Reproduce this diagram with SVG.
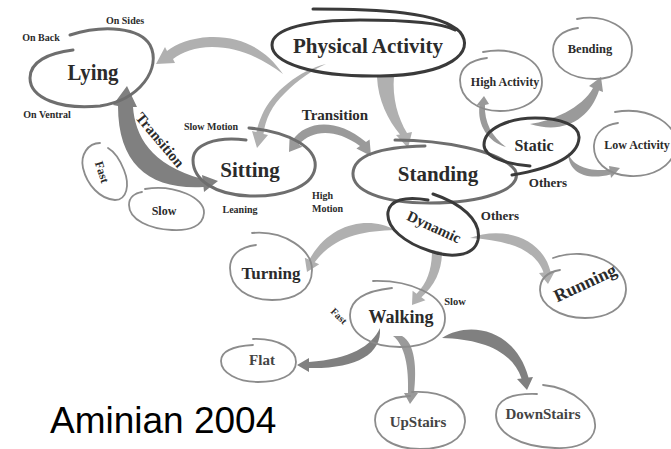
<svg xmlns="http://www.w3.org/2000/svg" width="671" height="449" viewBox="0 0 671 449">
  <style>
    .bg { fill: #ffffff; }
    .outline { fill: none; stroke-linecap: round; }
    .dark { stroke: #3a3a3a; stroke-width: 3; }
    .mid { stroke: #6e6e6e; stroke-width: 3; }
    .thin { stroke: #8c8c8c; stroke-width: 1.8; }
    .arrow-light { fill: #b0b0b0; }
    .arrow-mid { fill: #9a9a9a; }
    .arrow-dark { fill: #808080; }
    text { font-family: "Liberation Serif", "Times New Roman", serif; font-weight: bold; fill: #2b2b2b; text-anchor: middle; }
    .big { font-size: 21px; }
    .med { font-size: 15px; }
    .small { font-size: 10px; }
    .leaf { fill: #444444; }
    .credit { font-family: "Liberation Sans", Arial, sans-serif; font-weight: normal; fill: #000000; font-size: 37px; text-anchor: start; }
  </style>
  <rect class="bg" x="0" y="0" width="671" height="449"/>

  <!-- connectors: tapered curved arrows -->
  <g id="connectors">
    <!-- Physical Activity to Lying -->
    <path class="arrow-light" d="M283,74 C265,48 240,36 210,37 C190,38 176,44 167,51 L165,47 L156,64 L175,63 L173,59 C182,52 195,47 212,47 C238,47 262,58 283,74 Z"/>
    <!-- Physical Activity to Sitting -->
    <path class="arrow-light" d="M326,64 C300,70 272,92 262,115 C259,122 257,128 256.5,132 L252,131 L257,148 L268,135 L263.5,134 C265,120 272,105 285,93 C298,80 312,70 326,64 Z"/>
    <!-- Physical Activity to Standing -->
    <path class="arrow-light" d="M377,77 C378,100 388,120 400,134.5 L396,135 L408,148 L412,132 L407,133 C398,118 392,98 394,76 Z"/>
    <!-- Sitting / Standing transition -->
    <path class="arrow-mid" d="M293,139.6 C305,122 335,116 366,142 L369.6,139.6 L371,156 L356.4,148.4 L360,146 C335,128 312,130 299,144.4 L302.4,146.8 L289,152 L289.6,137.2 Z"/>
    <!-- Lying / Sitting transition -->
    <path class="arrow-dark" d="M133,107 C135,135 150,165 202.5,179 L202,175 L218,181 L204,192 L203.5,187 C150,190 118,165 118,106 L113,105 L127,86 L137,107 Z"/>
    <!-- Static to High Activity -->
    <path class="arrow-mid" d="M506,147 C488,142 477,125 479.5,105.5 L476,106 L484,96 L489,104 L485,105 C484,122 492,137 506,147 Z"/>
    <!-- Static to Bending -->
    <path class="arrow-mid" d="M530,124 C552,121 582,108 593,88 L589,86 L601,77 L603,92 L599,90.5 C590,118 565,135 530,124 Z"/>
    <!-- Static to Low Activity -->
    <path class="arrow-mid" d="M568,152 C571,166 590,172 609.5,169.5 L609,166 L620,168 L611,178 L610.5,174.5 C585,181 568,172 568,152 Z"/>
    <!-- Dynamic to Turning -->
    <path class="arrow-light" d="M395,230 C370,216 330,222 309.3,259.8 L304.8,257.8 L307,272 L319.2,264.2 L314.7,262.2 C335,235 365,231 395,230 Z"/>
    <!-- Dynamic to Running -->
    <path class="arrow-light" d="M470,238 C500,226 542,236 550.5,271.6 L555,271 L548,284 L539,273 L543.5,272.4 C535,248 505,240 470,238 Z"/>
    <!-- Dynamic to Walking -->
    <path class="arrow-light" d="M432,250 L442,252 C442,270 435,285 421.4,297.3 L425.4,300.3 L412,305 L412.6,290.7 L416.6,293.7 C428,282 432,268 432,250 Z"/>
    <!-- Walking to Flat -->
    <path class="arrow-dark" d="M380,328 C372,346 350,359 309,362 L309,358 L297,365 L309,372 L309,368 C355,369 382,355 380,328 Z"/>
    <!-- Walking to UpStairs -->
    <path class="arrow-mid" d="M393,336 C405,345 409,368 408,393 L404,393 L410,404 L418,393 L414,393 C417,368 415,343 402,336 Z"/>
    <!-- Walking to DownStairs -->
    <path class="arrow-dark" d="M442,338 C470,320 516,330 528.5,377.5 L533,377 L527,390 L517,379 L521.5,378.5 C512,350 480,339 442,338 Z"/>
  </g>

  <!-- nodes: hand-drawn open loops with labels -->
  <g id="physical-activity">
    <path class="outline dark" stroke-width="4" d="M313,9 C380,9 440,12 460,32 C476,52 450,75 380,76 C310,77 272,62 272,45 C272,28 310,20 360,20 C400,20 440,22 455,30"/>
    <text class="big" x="368" y="53">Physical Activity</text>
  </g>

  <g id="lying">
    <path class="outline mid" d="M70,35 C105,24 140,28 150,45 C162,68 140,100 100,106 C60,110 30,98 30,78 C30,62 48,53 73,50"/>
    <text x="93" y="80" font-size="23" textLength="51" lengthAdjust="spacingAndGlyphs">Lying</text>
    <text class="small" x="125" y="24">On Sides</text>
    <text class="small" x="41" y="41">On Back</text>
    <text class="small" x="47" y="118">On Ventral</text>
  </g>

  <g id="sitting">
    <path class="outline mid" d="M249,128 C290,132 318,148 315,168 C312,188 280,197 250,196 C215,195 193,180 193,160 C193,145 215,136 246,140"/>
    <text class="big" x="250" y="177">Sitting</text>
    <text class="small" x="211" y="130">Slow Motion</text>
    <text class="small" x="240" y="213">Leaning</text>
    <text class="small" x="312" y="199" style="text-anchor:start">High</text>
    <text class="small" x="312" y="212" style="text-anchor:start">Motion</text>
  </g>

  <g id="lying-sitting-label">
    <text class="med" transform="translate(160,140) rotate(50)" dy="5">Transition</text>
  </g>

  <g id="fast-posture">
    <path class="outline thin" stroke-width="1.5" d="M100,143 C88,143 80,155 83,168 C87,185 100,199 115,200 C127,200 130,185 124,170 C120,160 115,152 108,148"/>
    <text transform="translate(102,172) rotate(72)" dy="4" font-size="12">Fast</text>
  </g>

  <g id="slow-posture">
    <path class="outline thin" stroke-width="1.5" d="M145,189 C175,184 205,198 204,213 C203,226 190,231 172,230 C150,229 129,220 129,205 C129,197 135,193 142,192"/>
    <text x="164" y="215" font-size="12">Slow</text>
  </g>

  <g id="sitting-standing-label">
    <text class="med" x="335" y="120">Transition</text>
  </g>

  <g id="standing">
    <path class="outline mid" d="M395,140 C440,140 500,150 515,170 C525,190 480,203 430,203 C380,203 352,190 353,173 C354,155 380,147 425,146"/>
    <text class="big" x="438" y="181">Standing</text>
  </g>

  <g id="static">
    <path class="outline dark" stroke-width="2" d="M530,166 C505,164 484,156 484,145 C484,128 510,118 535,118 C560,118 580,125 579,138 C578,155 555,168 512,175"/>
    <text x="534" y="151" font-size="16">Static</text>
    <text x="548" y="187" font-size="13">Others</text>
  </g>

  <g id="high-activity">
    <path class="outline thin" d="M483,52 C515,46 542,60 542,82 C542,102 520,111 500,111 C478,111 460,99 460,80 C460,68 470,60 487,58"/>
    <text x="505" y="86" font-size="12">High Activity</text>
  </g>

  <g id="bending">
    <path class="outline thin" d="M577,19 C605,13 632,28 632,50 C632,68 615,79 595,79 C570,79 553,67 553,50 C553,38 563,30 578,28"/>
    <text x="590" y="53" font-size="12.5">Bending</text>
  </g>

  <g id="low-activity">
    <path class="outline thin" d="M615,112 C650,106 678,125 676,145 C674,168 650,177 630,176 C605,175 593,160 594,145 C595,132 605,125 618,123"/>
    <text x="637" y="149" font-size="12">Low Activity</text>
  </g>

  <g id="dynamic">
    <path class="outline dark" stroke-width="2.5" d="M433,194 C460,203 482,220 478,240 C474,257 450,258 430,251 C405,243 386,228 388,212 C390,200 405,196 428,200"/>
    <text transform="translate(434,227) rotate(25)" dy="5" font-size="15">Dynamic</text>
    <text x="500" y="220" font-size="13">Others</text>
  </g>

  <g id="turning">
    <path class="outline thin" d="M252,233 C285,230 312,250 312,270 C312,290 295,300 272,300 C248,300 230,288 230,268 C230,255 240,247 256,245"/>
    <text x="271" y="279" font-size="17">Turning</text>
  </g>

  <g id="running">
    <path class="outline thin" d="M553,258 C590,245 627,265 626,290 C625,310 605,318 585,318 C560,318 540,305 540,290 C540,278 548,272 560,270"/>
    <text transform="translate(585,283) rotate(-25)" dy="6" font-size="18">Running</text>
  </g>

  <g id="walking">
    <path class="outline thin" stroke="#9a9a9a" d="M373,281 C410,280 445,295 445,318 C445,338 425,347 400,347 C372,347 350,335 350,315 C350,300 365,291 392,288"/>
    <text x="401" y="323" font-size="18">Walking</text>
    <text x="455" y="305" font-size="10.5">Slow</text>
    <text transform="translate(339,316) rotate(45)" dy="3.5" font-size="10">Fast</text>
  </g>

  <g id="flat">
    <path class="outline thin" d="M253,339 C280,338 296,350 296,362 C296,376 278,382 258,382 C238,382 221,373 221,361 C221,350 235,346 253,345"/>
    <text class="leaf" x="262" y="365" font-size="15">Flat</text>
  </g>

  <g id="upstairs">
    <path class="outline thin" d="M412,392 C445,390 466,405 465,422 C464,440 445,449 420,449 C393,449 375,437 375,420 C375,405 390,397 410,396"/>
    <text class="leaf" x="418" y="427" font-size="15">UpStairs</text>
  </g>

  <g id="downstairs">
    <path class="outline thin" d="M543,385 C575,388 597,410 595,428 C593,443 575,449 555,448 C520,447 496,433 496,415 C496,400 510,393 537,394"/>
    <text class="leaf" x="543" y="419" font-size="15">DownStairs</text>
  </g>

  <text class="credit" x="50" y="433">Aminian 2004</text>
</svg>
